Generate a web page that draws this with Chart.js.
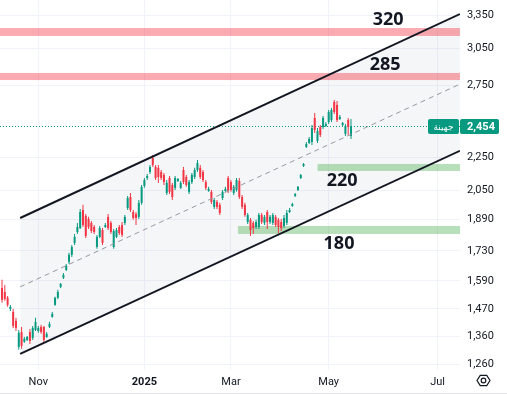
<!DOCTYPE html>
<html>
<head>
<meta charset="utf-8">
<script src="https://cdn.jsdelivr.net/npm/chart.js@4.4.1/dist/chart.umd.min.js"></script>
<style>
  html, body { margin: 0; padding: 0; background: #fff; }
  canvas { display: block; }
</style>
</head>
<body>
<canvas id="chart" width="507" height="395"></canvas>
<script>
// daily candles, one per trading session (index 0 = first visible bar)
const opens = [
  1559, 1542, 1517, 1470, 1458, 1422, 1322, 1378, 1341, 1348,
  1378, 1356, 1386, 1382, 1398, 1398, 1359, 1398, 1438, 1487,
  1517, 1564, 1604, 1640, 1678, 1711, 1769, 1824, 1844, 1940,
  1908, 1892, 1871, 1850, 1749, 1799, 1834, 1850, 1903, 1871,
  1749, 1799, 1850, 1860, 1871, 1951, 2012, 1929, 1918, 1903,
  1979, 2075, 2122, 2158, 2244, 2189, 2183, 2158, 2140, 2035,
  2122, 2081, 2064, 2104, 2064, 2170, 2128, 2041, 2098, 2128,
  2170, 2183, 2158, 2098, 2046, 2041, 1957, 1984, 1968, 2006,
  2046, 2122, 2098, 2035, 2052, 2104, 2012, 1968, 1876, 1887,
  1871, 1850, 1850, 1913, 1871, 1929, 1876, 1871, 1903, 1887,
  1876, 1855, 1871, 1929, 1962, 2018, 2052, 2122, 2195, 2315,
  2341, 2347, 2511, 2354, 2448, 2448, 2455, 2482, 2496, 2626,
  2604, 2503, 2462, 2401, 2496, 2387
];
const highs = [
  1595, 1572, 1525, 1487, 1470, 1434, 1386, 1398, 1359, 1363,
  1390, 1402, 1434, 1402, 1406, 1402, 1378, 1418, 1458, 1521,
  1551, 1581, 1626, 1668, 1721, 1759, 1814, 1871, 1946, 1968,
  1918, 1903, 1881, 1860, 1809, 1855, 1844, 1871, 1918, 1881,
  1839, 1844, 1860, 1876, 1913, 2018, 2035, 1940, 1929, 1995,
  2081, 2122, 2146, 2201, 2263, 2201, 2201, 2170, 2152, 2110,
  2134, 2093, 2134, 2122, 2104, 2189, 2140, 2110, 2152, 2183,
  2232, 2201, 2170, 2110, 2070, 2052, 2006, 1995, 1979, 2052,
  2070, 2134, 2110, 2081, 2122, 2122, 2023, 1979, 1924, 1897,
  1881, 1887, 1924, 1924, 1913, 1940, 1913, 1924, 1913, 1897,
  1892, 1913, 1940, 1951, 1979, 2035, 2075, 2146, 2213, 2347,
  2380, 2462, 2546, 2441, 2462, 2525, 2482, 2567, 2582, 2640,
  2633, 2532, 2482, 2469, 2511, 2503
];
const lows = [
  1496, 1504, 1479, 1462, 1394, 1382, 1311, 1315, 1337, 1344,
  1333, 1348, 1382, 1375, 1371, 1337, 1356, 1394, 1434, 1483,
  1512, 1559, 1599, 1635, 1668, 1701, 1759, 1814, 1839, 1850,
  1794, 1839, 1819, 1814, 1740, 1794, 1759, 1844, 1834, 1814,
  1740, 1794, 1809, 1799, 1860, 1940, 1929, 1887, 1860, 1892,
  1968, 2064, 2110, 2146, 2189, 2110, 2093, 2110, 2081, 2023,
  2029, 1995, 2052, 2098, 2058, 2087, 2070, 2029, 2087, 2116,
  2158, 2116, 2098, 2052, 2041, 1973, 1946, 1946, 1913, 1995,
  2041, 2035, 2041, 2023, 2041, 2001, 1946, 1903, 1865, 1804,
  1814, 1839, 1839, 1865, 1860, 1839, 1865, 1860, 1850, 1819,
  1829, 1844, 1860, 1924, 1957, 2012, 2046, 2116, 2189, 2308,
  2334, 2328, 2407, 2341, 2380, 2434, 2448, 2469, 2482, 2539,
  2482, 2496, 2455, 2387, 2394, 2367
];
const closes = [
  1508, 1512, 1487, 1479, 1402, 1394, 1375, 1326, 1352, 1359,
  1344, 1394, 1418, 1394, 1378, 1348, 1371, 1410, 1450, 1517,
  1542, 1577, 1617, 1659, 1711, 1749, 1799, 1850, 1929, 1860,
  1804, 1850, 1829, 1824, 1799, 1844, 1769, 1860, 1844, 1824,
  1829, 1834, 1819, 1809, 1903, 2006, 1940, 1897, 1897, 1979,
  2070, 2110, 2134, 2189, 2201, 2122, 2128, 2122, 2098, 2093,
  2041, 2012, 2122, 2116, 2093, 2098, 2081, 2098, 2140, 2170,
  2213, 2128, 2110, 2064, 2058, 1984, 1995, 1957, 1924, 2041,
  2058, 2046, 2052, 2070, 2110, 2012, 1957, 1913, 1913, 1834,
  1844, 1876, 1913, 1876, 1903, 1876, 1903, 1913, 1860, 1850,
  1844, 1897, 1924, 1940, 1973, 2029, 2070, 2140, 2207, 2334,
  2367, 2441, 2428, 2421, 2394, 2511, 2469, 2553, 2567, 2553,
  2496, 2518, 2476, 2455, 2448, 2454
];

// bar index where each month label sits
const monthTicks = [13, 51, 82, 117, 156];
const monthLabels = ['Nov', '2025', 'Mar', 'May', 'Jul'];
const priceTicks = [1260, 1360, 1470, 1590, 1730, 1890, 2050, 2250, 2750, 3050, 3350];

const lastPrice = 2454;
const symbolName = 'جهينة';

// rising channel (two anchors: bar index, price)
const channelBars = [6.5, 164];
const channelUpper = [1897, 3359];
const channelMid = [1564, 2760];
const channelLower = [1296, 2290];

// horizontal zones
const levels = [
  { name: '320', lo: 3159, hi: 3230, fromBar: null, support: false },
  { name: '285', lo: 2792, hi: 2848, fromBar: null, support: false },
  { name: '220', lo: 2164, hi: 2207, fromBar: 113, support: true },
  { name: '180', lo: 1814, hi: 1855, fromBar: 84.5, support: true }
];
const levelLabelBar = { '320': 138.3, '285': 137.2, '220': 121.8, '180': 120.7 };

const UP = '#089981', DOWN = '#f23645';
const candleColor = ctx => closes[ctx.dataIndex] >= opens[ctx.dataIndex] ? UP : DOWN;

const wicks = lows.map((l, i) => ({ x: i, y: [l, highs[i]] }));
const bodies = opens.map((o, i) => ({ x: i, y: [o, closes[i]] }));
const line = vals => channelBars.map((b, i) => ({ x: b, y: vals[i] }));

const overlay = {
  id: 'overlay',
  beforeDatasetsDraw(chart) {
    const { ctx, chartArea: a, scales: { x, y } } = chart;
    ctx.save();
    ctx.beginPath();
    ctx.rect(a.left, a.top, a.width, a.height);
    ctx.clip();
    levels.forEach(l => {
      const x0 = l.fromBar == null ? a.left : x.getPixelForValue(l.fromBar);
      const yt = y.getPixelForValue(l.hi), yb = y.getPixelForValue(l.lo);
      ctx.fillStyle = l.support ? 'rgba(76,175,80,0.40)' : 'rgba(242,54,69,0.42)';
      ctx.fillRect(x0, yt, a.right - x0, yb - yt);
    });
    // last price dotted line
    const py = Math.round(y.getPixelForValue(lastPrice)) + 0.5;
    ctx.strokeStyle = UP;
    ctx.lineWidth = 1;
    ctx.setLineDash([1, 2]);
    ctx.beginPath();
    ctx.moveTo(a.left, py);
    ctx.lineTo(a.right, py);
    ctx.stroke();
    ctx.restore();
  },
  afterDatasetsDraw(chart) {
    const { ctx, scales: { x, y } } = chart;
    ctx.save();
    ctx.font = 'bold 18px "Open Sans"';
    ctx.fillStyle = '#131722';
    ctx.textAlign = 'center';
    levels.forEach(l => {
      const cx = x.getPixelForValue(levelLabelBar[l.name]);
      if (l.support) {
        ctx.textBaseline = 'top';
        ctx.fillText(l.name, cx, y.getPixelForValue(l.lo) + 1);
      } else {
        ctx.textBaseline = 'alphabetic';
        ctx.fillText(l.name, cx, y.getPixelForValue(l.hi) - 3);
      }
    });
    ctx.restore();
  },
  afterDraw(chart) {
    const { ctx, chartArea: a, scales: { y } } = chart;
    ctx.save();
    const py = y.getPixelForValue(lastPrice);
    const h = 15, top = Math.round(py - h / 2);
    ctx.fillStyle = UP;
    ctx.beginPath();
    ctx.roundRect(a.right - 32, top, 31, h, 2);
    ctx.fill();
    ctx.beginPath();
    ctx.roundRect(a.right, top, 39, h, 2);
    ctx.fill();
    ctx.fillStyle = '#fff';
    ctx.textBaseline = 'middle';
    ctx.textAlign = 'center';
    ctx.font = '9px "Noto Sans", "DejaVu Sans"';
    ctx.fillText(symbolName, a.right - 16.5, top + h / 2 + 0.5);
    ctx.textAlign = 'left';
    ctx.font = 'bold 11px Roboto';
    ctx.fillText(lastPrice.toLocaleString('en-US'), a.right + 7, top + h / 2 + 0.5);

    // settings icon
    const cx = 483.5, cy = 380.5, r = 6.5;
    ctx.strokeStyle = '#131722';
    ctx.lineWidth = 1.2;
    ctx.beginPath();
    for (let k = 0; k < 6; k++) {
      const ang = Math.PI / 3 * k;
      const px = cx + r * Math.cos(ang), pyy = cy + r * 0.92 * Math.sin(ang);
      if (k === 0) ctx.moveTo(px, pyy); else ctx.lineTo(px, pyy);
    }
    ctx.closePath();
    ctx.stroke();
    ctx.beginPath();
    ctx.arc(cx, cy, 2.3, 0, Math.PI * 2);
    ctx.stroke();

    // bottom border
    ctx.strokeStyle = '#e0e3eb';
    ctx.lineWidth = 1;
    ctx.beginPath();
    ctx.moveTo(0, 393.5);
    ctx.lineTo(507, 393.5);
    ctx.stroke();
    ctx.restore();
  }
};

new Chart(document.getElementById('chart'), {
  type: 'bar',
  data: {
    datasets: [
      {
        type: 'line', data: line(channelUpper), borderColor: '#131722', borderWidth: 2,
        pointRadius: 0, fill: '+1', backgroundColor: 'rgba(120,123,160,0.07)', order: 0
      },
      {
        type: 'line', data: line(channelLower), borderColor: '#131722', borderWidth: 2,
        pointRadius: 0, fill: false, order: 0
      },
      {
        type: 'line', data: line(channelMid), borderColor: '#9598a1', borderWidth: 1,
        borderDash: [5, 4], pointRadius: 0, fill: false, order: 0
      },
      {
        data: wicks, backgroundColor: candleColor, barThickness: 1,
        grouped: false, borderWidth: 0, inflateAmount: 0, order: 2
      },
      {
        data: bodies, backgroundColor: candleColor, barThickness: 2,
        grouped: false, borderWidth: 0, inflateAmount: 0, minBarLength: 1, order: 1
      }
    ]
  },
  options: {
    responsive: false,
    animation: false,
    events: [],
    layout: { padding: 0 },
    plugins: {
      legend: { display: false },
      tooltip: { enabled: false },
      filler: { drawTime: 'beforeDatasetsDraw' }
    },
    scales: {
      x: {
        type: 'linear',
        offset: false,
        min: -0.72,
        max: 164.04,
        afterBuildTicks: s => { s.ticks = monthTicks.map(v => ({ value: v })); },
        afterFit: s => { s.height = 25; s.paddingLeft = 0; s.paddingRight = 0; },
        grid: { color: '#f0f3fa', drawTicks: false, offset: false },
        border: { display: false },
        ticks: {
          autoSkip: false,
          maxRotation: 0,
          padding: 6,
          color: '#131722',
          font: c => ({ family: 'Roboto', size: 11, weight: monthLabels[c.index] === '2025' ? 'bold' : 'normal' }),
          callback: (v, i) => monthLabels[i]
        }
      },
      y: {
        type: 'logarithmic',
        position: 'right',
        min: 1239,
        max: 3494,
        afterBuildTicks: s => { s.ticks = priceTicks.map(v => ({ value: v })); },
        afterFit: s => { s.width = 47; s.paddingTop = 0; s.paddingBottom = 0; },
        grid: { color: '#f0f3fa', drawTicks: false },
        border: { display: false },
        ticks: {
          padding: 7,
          color: '#131722',
          font: { family: 'Roboto', size: 11 },
          callback: v => v.toLocaleString('en-US')
        }
      }
    }
  },
  plugins: [overlay]
});
</script>
</body>
</html>
